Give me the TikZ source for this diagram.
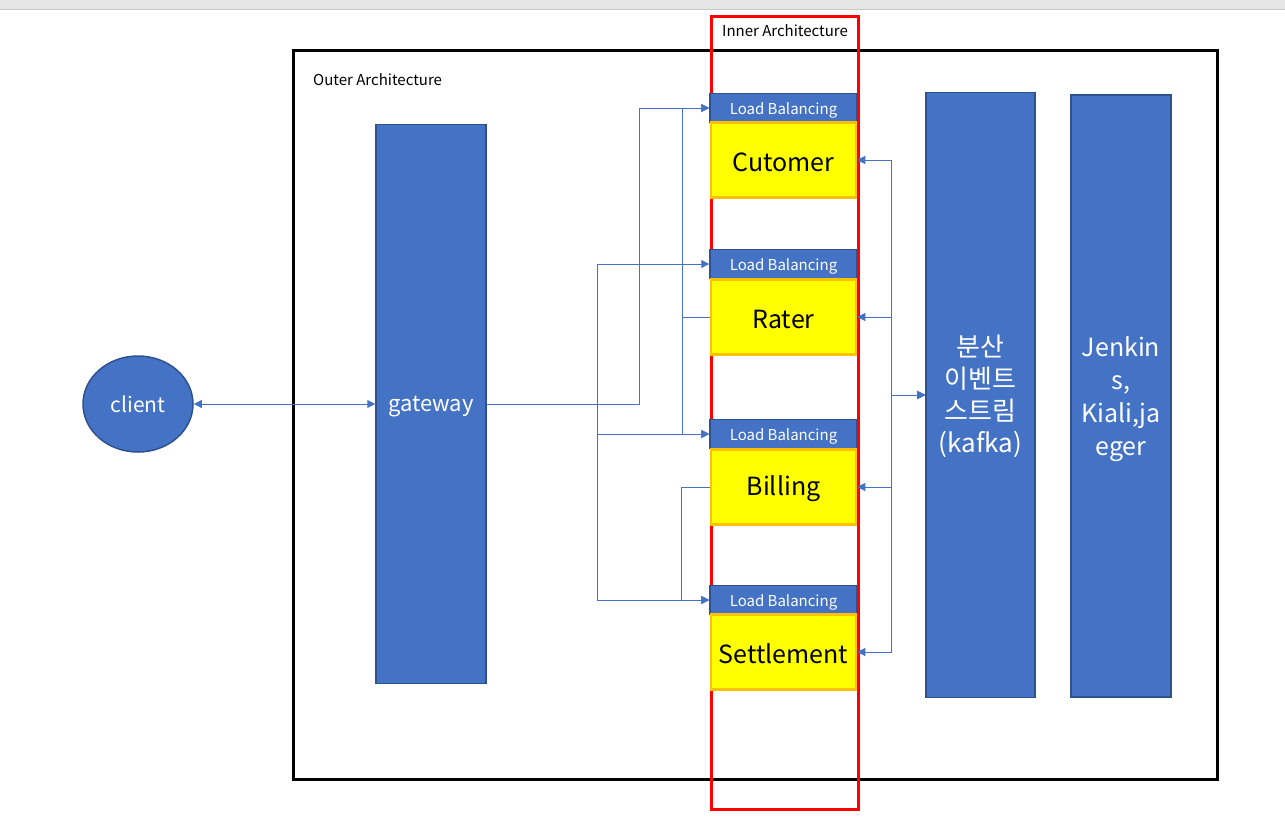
\documentclass[tikz,border=0pt]{standalone}
\usepackage{fontspec}
\setmainfont{Noto Sans CJK KR}
\usetikzlibrary{arrows.meta,shapes.geometric}
\definecolor{ofblue}{HTML}{4472C4}
\definecolor{ofborder}{HTML}{2F528F}
\definecolor{ofyellow}{HTML}{FFFF00}
\definecolor{oforange}{HTML}{FFC000}
\definecolor{bandgray}{HTML}{E6E6E6}
\definecolor{bandline}{HTML}{C8C8C8}
\newcommand\lowr[2][2pt]{\raisebox{-#1}[\height][\depth]{#2}}
\tikzset{
  bluebox/.style={draw=ofborder, fill=ofblue, line width=1.5pt, text=white, inner sep=0pt, align=center},
  lbbox/.style={bluebox, minimum width=147pt, minimum height=29pt, font=\fontsize{15}{17}\selectfont},
  svcbox/.style={draw=oforange, fill=ofyellow, line width=2.5pt, inner sep=0pt, minimum width=145pt, minimum height=75pt, font=\fontsize{25}{29}\selectfont},
  conn/.style={draw=ofblue, line width=1pt},
  tip/.style={-{Triangle[length=8pt,width=8pt]}},
  bitip/.style={{Triangle[length=8pt,width=8pt]}-{Triangle[length=8pt,width=8pt]}},
  smalllabel/.style={font=\fontsize{15}{17}\selectfont, inner sep=0pt}
}
\begin{document}
\begin{tikzpicture}[x=1pt,y=-1pt]
\useasboundingbox (0,0) rectangle (1285,823);
% screenshot band
\fill[bandgray] (0,0) rectangle (1285,9);
\draw[bandline, line width=1.2pt] (0,9.5) -- (1285,9.5);
% outer and inner frames
\draw[black, line width=3pt] (293,50) rectangle (1217,779);
\draw[red, line width=3pt] (711,16) rectangle (858,809);
\node[smalllabel] (innerlbl) at (785,31) {Inner Architecture};
\node[smalllabel, anchor=west] (outerlbl) at (313,80) {Outer Architecture};
% client and gateway
\node[bluebox, ellipse, minimum width=110pt, minimum height=96pt, font=\fontsize{21}{25}\selectfont] (client) at (138,404) {client};
\node[bluebox, minimum width=110pt, minimum height=559pt, font=\fontsize{22}{26}\selectfont] (gw) at (431,404) {\lowr[3pt]{gateway}};
% services
\node[lbbox] (lb1) at (783.5,108) {\lowr{Load Balancing}};
\node[svcbox] (cust) at (783.5,160) {\lowr{Cutomer}};
\node[lbbox] (lb2) at (783.5,264) {\lowr{Load Balancing}};
\node[svcbox] (rater) at (783.5,317) {\lowr{Rater}};
\node[lbbox] (lb3) at (783.5,434) {\lowr{Load Balancing}};
\node[svcbox] (bill) at (783.5,487) {\lowr{Billing}};
\node[lbbox] (lb4) at (783.5,600) {\lowr{Load Balancing}};
\node[svcbox] (settle) at (783.5,652) {\lowr{Settlement}};
% right columns
\node[bluebox, minimum width=109pt, minimum height=605pt, font=\fontsize{26}{32}\selectfont] (kafka) at (980.5,395) {\lowr[1.5pt]{\parbox{109pt}{\centering 분산\\이벤트\\스트림\\(kafka)}}};
\node[bluebox, minimum width=100pt, minimum height=602pt, font=\fontsize{25}{33}\selectfont] (tools) at (1121,396) {\lowr[3.5pt]{\parbox{100pt}{\centering Jenkin\\s,\\Kiali,ja\\eger}}};
% connectors
\draw[conn, bitip] (client.east) -- (gw.west |- client.east);
\draw[conn, tip] (gw.east) -| ([xshift=-70pt]lb1.west) -- (lb1.west);
\draw[conn, tip] (gw.east) -| ([xshift=-112pt]lb2.west) -- (lb2.west);
\draw[conn, tip] (gw.east) -| ([xshift=-112pt]lb3.west) -- (lb3.west);
\draw[conn, tip] (gw.east) -| ([xshift=-112pt]lb4.west) -- (lb4.west);
\draw[conn, tip] (rater.west) -- ++(-27,0) |- (lb1.west);
\draw[conn, tip] (rater.west) -- ++(-27,0) |- (lb3.west);
\draw[conn, tip] (bill.west) -- ++(-28,0) |- (lb4.west);
\draw[conn, bitip] (cust.east) -- ++(34,0) |- (kafka.west);
\draw[conn, bitip] (rater.east) -- ++(34,0) |- (kafka.west);
\draw[conn, bitip] (bill.east) -- ++(34,0) |- (kafka.west);
\draw[conn, bitip] (settle.east) -- ++(34,0) |- (kafka.west);
\end{tikzpicture}
\end{document}
